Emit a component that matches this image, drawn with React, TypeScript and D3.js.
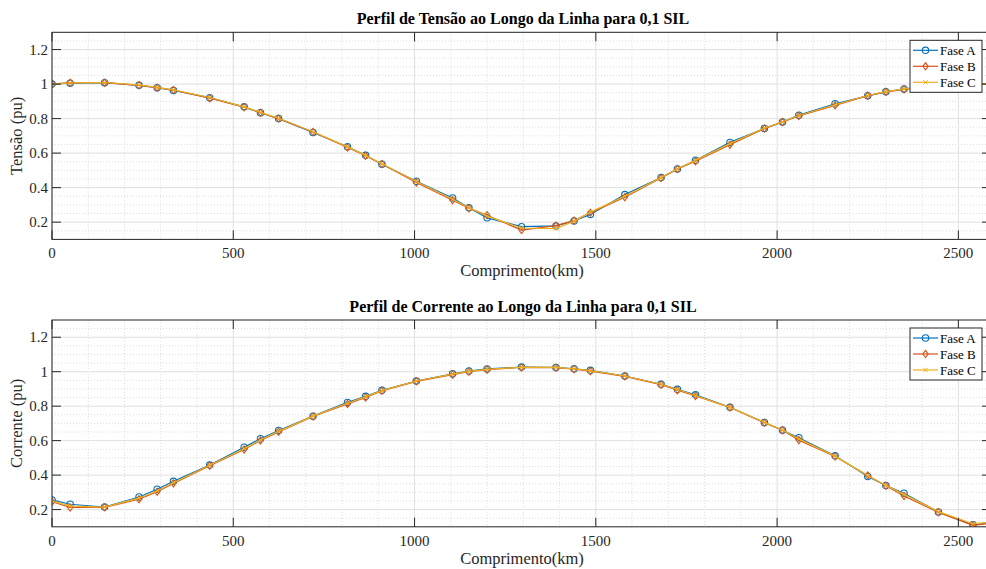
import React from "react";
import * as d3 from "d3";

const W = 986;
const H = 569;

const xKm = [0, 50, 145, 240, 290, 335, 435, 530, 575, 625, 720, 815, 865, 910, 1005, 1105, 1150, 1200, 1295, 1390, 1440, 1485, 1580, 1680, 1725, 1775, 1870, 1965, 2015, 2060, 2160, 2250, 2300, 2350, 2445, 2540, 2590];

const tensaoA = [1.0, 1.005, 1.008, 0.993, 0.979, 0.963, 0.921, 0.868, 0.834, 0.8, 0.72, 0.637, 0.587, 0.535, 0.437, 0.34, 0.283, 0.225, 0.174, 0.178, 0.207, 0.244, 0.36, 0.458, 0.508, 0.559, 0.662, 0.743, 0.78, 0.82, 0.886, 0.932, 0.955, 0.972, 0.99, 1.0, 1.002];
const tensaoB = [1.0, 1.008, 1.008, 0.993, 0.979, 0.965, 0.918, 0.866, 0.834, 0.8, 0.722, 0.633, 0.585, 0.537, 0.43, 0.327, 0.281, 0.24, 0.154, 0.18, 0.209, 0.254, 0.345, 0.456, 0.508, 0.553, 0.649, 0.742, 0.78, 0.815, 0.877, 0.933, 0.955, 0.969, 0.99, 1.0, 1.002];
const tensaoC = [1.0, 1.007, 1.009, 0.995, 0.981, 0.966, 0.922, 0.868, 0.836, 0.802, 0.724, 0.636, 0.587, 0.538, 0.435, 0.333, 0.283, 0.235, 0.166, 0.163, 0.205, 0.258, 0.35, 0.458, 0.509, 0.558, 0.655, 0.744, 0.782, 0.818, 0.88, 0.934, 0.956, 0.972, 0.99, 1.0, 1.002];

const correnteA = [0.256, 0.231, 0.215, 0.273, 0.318, 0.364, 0.458, 0.562, 0.611, 0.659, 0.742, 0.822, 0.857, 0.892, 0.946, 0.988, 1.004, 1.016, 1.027, 1.025, 1.017, 1.008, 0.975, 0.927, 0.898, 0.866, 0.794, 0.705, 0.66, 0.617, 0.512, 0.392, 0.34, 0.295, 0.186, 0.112, 0.124];
const correnteB = [0.246, 0.212, 0.213, 0.26, 0.304, 0.352, 0.455, 0.549, 0.601, 0.651, 0.74, 0.813, 0.851, 0.889, 0.944, 0.983, 1.0, 1.012, 1.025, 1.023, 1.015, 1.003, 0.973, 0.925, 0.893, 0.859, 0.792, 0.704, 0.66, 0.603, 0.508, 0.398, 0.338, 0.279, 0.184, 0.108, 0.12];
const correnteC = [0.25, 0.22, 0.214, 0.266, 0.308, 0.356, 0.457, 0.553, 0.604, 0.654, 0.742, 0.817, 0.855, 0.89, 0.946, 0.986, 1.002, 1.014, 1.026, 1.025, 1.016, 1.006, 0.975, 0.927, 0.897, 0.862, 0.793, 0.706, 0.662, 0.61, 0.51, 0.396, 0.34, 0.288, 0.188, 0.118, 0.126];

const seriesNames = ["Fase A", "Fase B", "Fase C"];
const seriesColors = ["#0072BD", "#D95319", "#EDB120"];
const xTicks = [0, 500, 1000, 1500, 2000, 2500];
const yTicks = [0.2, 0.4, 0.6, 0.8, 1, 1.2];
const xDomain = [0, 2590];
const yDomain = [0.1, 1.3];

const FONT = "'Liberation Serif', 'Times New Roman', serif";

type PanelProps = {
  top: number;
  bottom: number;
  title: string;
  yLabel: string;
  data: number[][];
  id: string;
};

function Marker({ kind, x, y, color }: { kind: number; x: number; y: number; color: string }) {
  if (kind === 0) {
    return <circle cx={x} cy={y} r={3.2} fill="none" stroke={color} strokeWidth={1.1} />;
  }
  if (kind === 1) {
    const s = 3.6;
    return (
      <path
        d={`M${x},${y - s}L${x + s * 0.75},${y}L${x},${y + s}L${x - s * 0.75},${y}Z`}
        fill="none"
        stroke={color}
        strokeWidth={1.1}
      />
    );
  }
  const s = 2.2;
  return (
    <path
      d={`M${x - s},${y - s}L${x + s},${y + s}M${x - s},${y + s}L${x + s},${y - s}`}
      stroke={color}
      strokeWidth={1}
    />
  );
}

function Panel({ top, bottom, title, yLabel, data, id }: PanelProps) {
  const left = 52;
  const right = 991;
  const x = d3.scaleLinear().domain(xDomain).range([left, right]);
  const y = d3.scaleLinear().domain(yDomain).range([bottom, top]);
  const minorX = d3.range(0, 2600, 100).filter((v) => v % 500 !== 0);
  const minorY = d3.range(0.1, 1.3001, 0.05).map((v) => +v.toFixed(2)).filter((v) => Math.abs(v * 5 - Math.round(v * 5)) > 1e-6);
  const line = d3
    .line<number>()
    .x((_, i) => x(xKm[i]))
    .y((d) => y(d));
  const tickLen = 9;
  const axisColor = "#262626";
  const legX = 910;
  const legY = top + 8;
  return (
    <g>
      <defs>
        <clipPath id={id}>
          <rect x={left} y={top} width={right - left} height={bottom - top} />
        </clipPath>
      </defs>
      <rect x={left} y={top} width={right - left} height={bottom - top} fill="#ffffff" />
      {minorX.map((v) => (
        <line key={"mx" + v} x1={x(v)} x2={x(v)} y1={top} y2={bottom} stroke="#cfcfcf" strokeWidth={0.7} strokeDasharray="1,2" />
      ))}
      {minorY.map((v) => (
        <line key={"my" + v} x1={left} x2={right} y1={y(v)} y2={y(v)} stroke="#cfcfcf" strokeWidth={0.7} strokeDasharray="1,2" />
      ))}
      {xTicks.map((v) => (
        <line key={"gx" + v} x1={x(v)} x2={x(v)} y1={top} y2={bottom} stroke="#e0e0e0" strokeWidth={1} />
      ))}
      {yTicks.map((v) => (
        <line key={"gy" + v} x1={left} x2={right} y1={y(v)} y2={y(v)} stroke="#e0e0e0" strokeWidth={1} />
      ))}
      <g clipPath={`url(#${id})`}>
        {data.map((s, k) => (
          <g key={"s" + k}>
            <path d={line(s) || ""} fill="none" stroke={seriesColors[k]} strokeWidth={1.2} />
            {s.map((v, i) => (
              <Marker key={i} kind={k} x={x(xKm[i])} y={y(v)} color={seriesColors[k]} />
            ))}
          </g>
        ))}
      </g>
      <rect x={left} y={top} width={right - left} height={bottom - top} fill="none" stroke={axisColor} strokeWidth={1} />
      {xTicks.map((v) => (
        <g key={"tx" + v}>
          <line x1={x(v)} x2={x(v)} y1={bottom} y2={bottom - tickLen} stroke={axisColor} strokeWidth={1} />
          <line x1={x(v)} x2={x(v)} y1={top} y2={top + tickLen} stroke={axisColor} strokeWidth={1} />
          <text x={x(v)} y={bottom + 19} textAnchor="middle" fontFamily={FONT} fontSize={15} fill="#262626">
            {v}
          </text>
        </g>
      ))}
      {yTicks.map((v) => (
        <g key={"ty" + v}>
          <line x1={left} x2={left + tickLen} y1={y(v)} y2={y(v)} stroke={axisColor} strokeWidth={1} />
          <line x1={right} x2={right - tickLen} y1={y(v)} y2={y(v)} stroke={axisColor} strokeWidth={1} />
          <text x={left - 4} y={y(v) + 5} textAnchor="end" fontFamily={FONT} fontSize={15} fill="#262626">
            {d3.format("~g")(v)}
          </text>
        </g>
      ))}
      <text x={523} y={top - 8} textAnchor="middle" fontFamily={FONT} fontSize={16} fontWeight="bold" fill="#000">
        {title}
      </text>
      <text x={522} y={bottom + 37} textAnchor="middle" fontFamily={FONT} fontSize={16.5} fill="#262626">
        Comprimento(km)
      </text>
      <text
        transform={`translate(${22},${(top + bottom) / 2}) rotate(-90)`}
        textAnchor="middle"
        fontFamily={FONT}
        fontSize={16.5}
        fill="#262626"
      >
        {yLabel}
      </text>
      <rect x={legX} y={legY} width={72} height={52} fill="#ffffff" stroke={axisColor} strokeWidth={1} />
      {seriesNames.map((n, k) => {
        const ly = legY + 10 + k * 16;
        return (
          <g key={"l" + k}>
            <line x1={legX + 3} x2={legX + 28} y1={ly} y2={ly} stroke={seriesColors[k]} strokeWidth={1.2} />
            <Marker kind={k} x={legX + 15.5} y={ly} color={seriesColors[k]} />
            <text x={legX + 30} y={ly + 4.5} fontFamily={FONT} fontSize={13} fill="#000">
              {n}
            </text>
          </g>
        );
      })}
    </g>
  );
}

export default function App() {
  return (
    <svg
      width={W}
      height={H}
      viewBox={`0 0 ${W} ${H}`}
      style={{ position: "absolute", left: 0, top: 0, background: "#fff" }}
    >
      <rect x={0} y={0} width={W} height={H} fill="#ffffff" />
      <Panel
        id="clipTop"
        top={32.3}
        bottom={239.4}
        title="Perfil de Tensão ao Longo da Linha para 0,1 SIL"
        yLabel="Tensão (pu)"
        data={[tensaoA, tensaoB, tensaoC]}
      />
      <Panel
        id="clipBottom"
        top={320}
        bottom={526.8}
        title="Perfil de Corrente ao Longo da Linha para 0,1 SIL"
        yLabel="Corrente (pu)"
        data={[correnteA, correnteB, correnteC]}
      />
    </svg>
  );
}
